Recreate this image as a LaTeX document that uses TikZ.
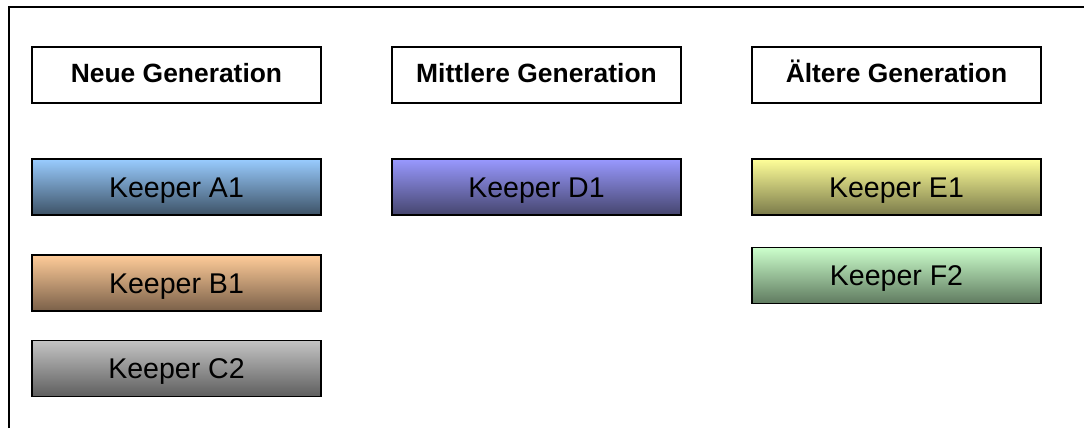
\documentclass[tikz,border=0pt]{standalone}
\usepackage{fontspec}
\setmainfont{Liberation Sans}
\definecolor{aTop}{HTML}{99CCFF}\definecolor{aBot}{HTML}{3D5266}
\definecolor{bTop}{HTML}{FFCC99}\definecolor{bBot}{HTML}{7A6049}
\definecolor{cTop}{HTML}{C4C4C4}\definecolor{cBot}{HTML}{5E5E5E}
\definecolor{dTop}{HTML}{9999FF}\definecolor{dBot}{HTML}{45456E}
\definecolor{eTop}{HTML}{FFFF99}\definecolor{eBot}{HTML}{7A7A4A}
\definecolor{fTop}{HTML}{CCFFCC}\definecolor{fBot}{HTML}{5F7A5F}
\tikzset{
  box/.style={draw=black, line width=1.3pt, rectangle, minimum width=216.75pt, minimum height=42pt, inner sep=0pt, outer sep=0pt},
  headbox/.style={box, fill=white, font=\fontsize{19.8}{24}\selectfont\bfseries, text height=15pt, text depth=3.3pt},
  keeper/.style={box, font=\fontsize{21.4}{26}\selectfont, text height=18pt, text depth=3pt},
}
\begin{document}
\begin{tikzpicture}[x=0.75pt,y=-0.75pt]
\useasboundingbox (0,0) rectangle (1084,428);
\fill[white] (0,0) rectangle (1084,428);
\draw[line width=1.3pt] (9,428) -- (9,7) -- (1084,7);
\node[headbox] (neu) at (176.5,75) {Neue Generation};
\node[headbox] (mit) at (536.5,75) {Mittlere Generation};
\node[headbox] (alt) at (896.5,75) {Ältere Generation};
\node[keeper, top color=aTop, bottom color=aBot] (a1) at (176.5,187) {Keeper A1};
\node[keeper, top color=bTop, bottom color=bBot] (b1) at (176.5,283) {Keeper B1};
\node[keeper, top color=cTop, bottom color=cBot] (c2) at (176.5,368.5) {Keeper C2};
\node[keeper, top color=dTop, bottom color=dBot] (d1) at (536.5,187) {Keeper D1};
\node[keeper, top color=eTop, bottom color=eBot] (e1) at (896.5,187) {Keeper E1};
\node[keeper, top color=fTop, bottom color=fBot] (f2) at (896.5,275.5) {Keeper F2};
\end{tikzpicture}
\end{document}
